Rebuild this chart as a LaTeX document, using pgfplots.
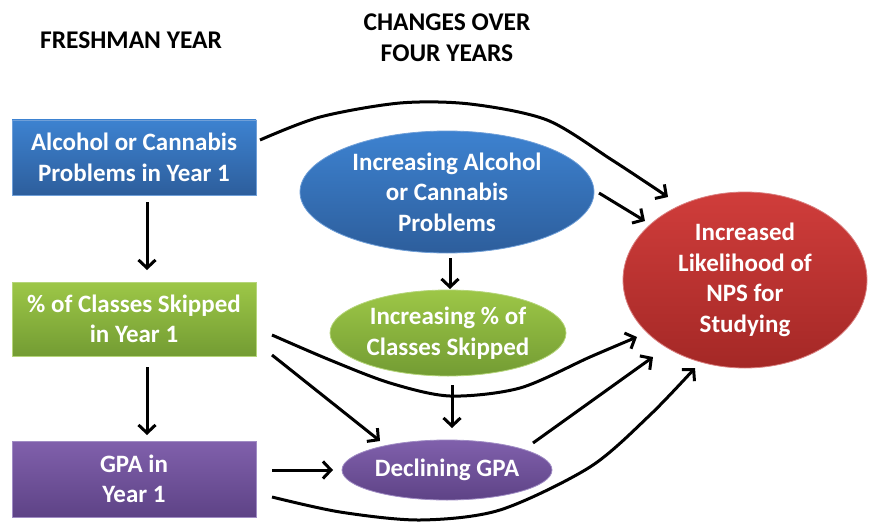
\documentclass[border=0pt]{standalone}
\usepackage{fontspec}
\setmainfont{Carlito}[BoldFont={Carlito Bold}]
\usepackage{pgfplots}
\pgfplotsset{compat=1.18}
\usetikzlibrary{arrows.meta,shapes.geometric}
\definecolor{bluetop}{HTML}{3D82D0}
\definecolor{bluebot}{HTML}{2D5E9C}
\definecolor{blueedge}{HTML}{6F9FD8}
\definecolor{greentop}{HTML}{9DC747}
\definecolor{greenbot}{HTML}{739C33}
\definecolor{greenedge}{HTML}{B5D57A}
\definecolor{purptop}{HTML}{8060AC}
\definecolor{purpbot}{HTML}{5E4386}
\definecolor{purpedge}{HTML}{A08CC4}
\definecolor{redtop}{HTML}{D03D3B}
\definecolor{redbot}{HTML}{A42826}
\definecolor{rededge}{HTML}{D98080}
\begin{document}
\begin{tikzpicture}
\begin{axis}[width=872pt,height=524pt,scale only axis,
  xmin=0,xmax=872,ymin=0,ymax=524,y dir=reverse,hide axis,clip=false,
  every axis plot/.append style={line width=3pt,black},
  arr/.style={-{Straight Barb[length=8pt,width=17pt]}}]
\path (axis cs:0,0) rectangle (axis cs:872,524);
% headers
\node[font=\fontsize{25.5}{31}\selectfont\bfseries,align=center] at (axis cs:131,40) {FRESHMAN YEAR};
\node[font=\fontsize{25.5}{31}\selectfont\bfseries,align=center] at (axis cs:447,38) {CHANGES OVER\\FOUR YEARS};
% boxes
\tikzset{box/.style={rectangle,minimum width=244pt,inner sep=0pt,text=white,align=center,
   font=\fontsize{25}{30.5}\selectfont\bfseries},
   ell/.style={ellipse,inner sep=0pt,text=white,align=center,font=\fontsize{25}{30.5}\selectfont\bfseries}}
\node[box,minimum height=75pt,top color=bluetop,bottom color=bluebot,draw=blueedge,line width=0.8pt] at (axis cs:134,157.5) {Alcohol or Cannabis\\Problems in Year 1};
\node[box,minimum height=74pt,top color=greentop,bottom color=greenbot,draw=greenedge,line width=0.8pt] at (axis cs:134,319) {\% of Classes Skipped\\in Year 1};
\node[box,minimum height=76pt,top color=purptop,bottom color=purpbot,draw=purpedge,line width=0.8pt] at (axis cs:134,479) {GPA in\\Year 1};
% ellipses
\node[ell,minimum width=294pt,minimum height=122pt,top color=bluetop,bottom color=bluebot,draw=blueedge,line width=0.8pt] at (axis cs:447,192) {Increasing Alcohol\\or Cannabis\\Problems};
\node[ell,minimum width=236pt,minimum height=86pt,top color=greentop,bottom color=greenbot,draw=greenedge,line width=0.8pt] at (axis cs:448,333) {Increasing \% of\\Classes Skipped};
\node[ell,minimum width=210pt,minimum height=60pt,top color=purptop,bottom color=purpbot,draw=purpedge,line width=0.8pt] at (axis cs:447,470) {Declining GPA};
\node[ell,minimum width=244pt,minimum height=176pt,top color=redtop,bottom color=redbot,draw=rededge,line width=0.8pt] at (axis cs:745,280) {Increased\\Likelihood of\\NPS for\\Studying};
% arrows
\addplot[arr] coordinates {(147,202) (147,270)};
\addplot[arr] coordinates {(147,367) (147,435)};
\addplot[arr] coordinates {(450,258) (450,289)};
\addplot[arr] coordinates {(452,385) (452,428)};
\addplot[arr] coordinates {(272,470) (333,470)};
\addplot[arr] coordinates {(272,355) (380,441)};
\addplot[arr] coordinates {(533,443) (653,357)};
\addplot[arr] coordinates {(599,193) (645,221)};
\addplot[arr,smooth] coordinates {(260,140) (320,117) (400,103) (470,104) (547,120) (612,160) (668,197)};
\addplot[arr,smooth] coordinates {(272,335) (330,360) (390,383) (450,396) (520,388) (590,357) (637,337)};
\addplot[arr,smooth] coordinates {(272,497) (340,512) (420,520) (500,510) (590,467) (650,415) (695,368)};
\end{axis}
\end{tikzpicture}
\end{document}
